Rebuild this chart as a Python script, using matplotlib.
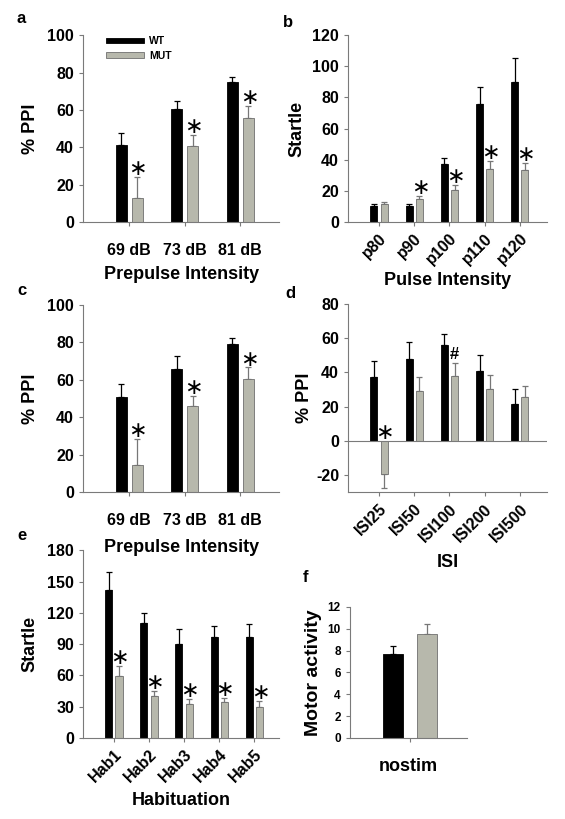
import matplotlib
matplotlib.use('Agg')
import matplotlib.pyplot as plt
from matplotlib.patches import Patch
import numpy as np

plt.rcParams['font.family'] = ['Liberation Sans', 'DejaVu Sans']
plt.rcParams['font.weight'] = 'bold'
plt.rcParams['axes.labelweight'] = 'bold'
plt.rcParams['axes.unicode_minus'] = False

GREY = '#b7b8ac'
EDGE = '#6f6f6f'
SPINE = '#7a7a7a'

# a - prepulse inhibition
prepulse = ['69 dB', '73 dB', '81 dB']
a_wt = [41, 60.5, 75]
a_wt_err = [6.5, 4.5, 2.5]
a_mut = [13, 40.5, 55.5]
a_mut_err = [11, 6, 6.5]
a_marks = ['*', '*', '*']

# b - startle vs pulse intensity
pulse = ['p80', 'p90', 'p100', 'p110', 'p120']
b_wt = [10, 10.5, 37, 76, 90]
b_wt_err = [1.5, 1, 4, 10.5, 15.5]
b_mut = [11.5, 15, 20.5, 34, 33.5]
b_mut_err = [1, 1.5, 3, 5, 4.5]
b_marks = ['', '*', '*', '*', '*']

# c - prepulse inhibition (second set)
c_wt = [51, 65.5, 79]
c_wt_err = [6.5, 7, 3]
c_mut = [14.5, 46, 60.5]
c_mut_err = [14, 5.5, 6]
c_marks = ['*', '*', '*']

# d - PPI vs interstimulus interval
isi = ['ISI25', 'ISI50', 'ISI100', 'ISI200', 'ISI500']
d_wt = [37, 48, 56, 40.5, 21.5]
d_wt_err = [9.5, 10, 6.5, 9.5, 8.5]
d_mut = [-19.5, 29, 38, 30, 25.5]
d_mut_err = [8, 8.5, 7.5, 8.5, 6.5]
d_marks = ['*', '', '#', '', '']

# e - habituation
hab = ['Hab1', 'Hab2', 'Hab3', 'Hab4', 'Hab5']
e_wt = [142, 110, 90, 97, 97]
e_wt_err = [17, 10, 15, 10, 12.5]
e_mut = [59, 40.5, 33, 34, 30]
e_mut_err = [10, 4.5, 4.5, 4.5, 5.5]
e_marks = ['*', '*', '*', '*', '*']

# f - motor activity
f_cat = ['nostim']
f_wt = [7.7]
f_wt_err = [0.7]
f_mut = [9.55]
f_mut_err = [0.9]

TICK = 11.5
LAB = 13


def style(ax):
    ax.patch.set_visible(False)
    for s in ['top', 'right']:
        ax.spines[s].set_visible(False)
    for s in ['left', 'bottom']:
        ax.spines[s].set_color(SPINE)
        ax.spines[s].set_linewidth(0.8)
    ax.tick_params(colors=SPINE, labelcolor='black', length=3, width=0.8)


def bars(ax, labels, wt, wt_err, mut, mut_err, marks, off=0.145, width=0.2):
    x = np.arange(len(labels))
    for vals, errs, dx, fc, ec, elc in [(wt, wt_err, -off, 'black', 'black', 'black'),
                                        (mut, mut_err, off, GREY, EDGE, '#777777')]:
        vals = np.array(vals)
        errs = np.array(errs)
        lo = np.where(vals < 0, errs, 0)
        hi = np.where(vals >= 0, errs, 0)
        ax.bar(x + dx, vals, width, color=fc, edgecolor=ec, linewidth=0.6, zorder=2)
        ax.errorbar(x + dx, vals, yerr=[lo, hi], fmt='none', ecolor=elc,
                    elinewidth=0.9, capsize=2.5, capthick=0.9, zorder=1)
    for i, m in enumerate(marks):
        if not m:
            continue
        top = mut[i] + mut_err[i] if mut[i] >= 0 else 0
        if m == '*':
            ax.annotate('\u2217', xy=(i + off, top), xytext=(0.5, -1.5),
                        textcoords='offset points', ha='center', va='bottom',
                        fontsize=16, fontweight='normal', family='DejaVu Sans')
        else:
            ax.annotate(m, xy=(i + off, top), xytext=(0, 1),
                        textcoords='offset points', ha='center', va='bottom',
                        fontsize=12, fontweight='bold')
    ax.set_xticks(x)
    style(ax)


fig = plt.figure(figsize=(5.65, 8.19), dpi=100)

# panel a
ax = fig.add_axes([0.147, 0.729, 0.347, 0.228])
bars(ax, prepulse, a_wt, a_wt_err, a_mut, a_mut_err, a_marks)
ax.set_xlim(-0.83, 2.70)
ax.set_ylim(0, 100)
ax.set_yticks(range(0, 101, 20))
ax.set_xticklabels(prepulse, fontsize=TICK)
ax.tick_params(axis='x', pad=12)
ax.tick_params(axis='y', labelsize=TICK)
ax.set_ylabel('% PPI', fontsize=LAB, labelpad=6)
ax.set_xlabel('Prepulse Intensity', fontsize=LAB, labelpad=6)
ax.legend(handles=[Patch(facecolor='black', edgecolor='black', lw=0.6),
                   Patch(facecolor=GREY, edgecolor=EDGE, lw=0.6)],
          labels=['WT', 'MUT'], loc='upper left', bbox_to_anchor=(0.07, 1.045),
          frameon=False, fontsize=7.5, handlelength=3.6, handleheight=0.5,
          labelspacing=0.45, handletextpad=0.5)
fig.text(0.030, 0.972, 'a', fontsize=12, fontweight='bold')

# panel b
ax = fig.add_axes([0.616, 0.729, 0.352, 0.228])
bars(ax, pulse, b_wt, b_wt_err, b_mut, b_mut_err, b_marks, off=0.145, width=0.2)
ax.set_xlim(-0.88, 4.77)
ax.set_ylim(0, 120)
ax.set_yticks(range(0, 121, 20))
ax.set_xticklabels(pulse, fontsize=TICK, rotation=45, ha='right', rotation_mode='anchor')
ax.tick_params(axis='y', labelsize=TICK)
ax.set_ylabel('Startle', fontsize=LAB, labelpad=5)
ax.set_xlabel('Pulse Intensity', fontsize=LAB, labelpad=3)
fig.text(0.501, 0.967, 'b', fontsize=12, fontweight='bold')

# panel c
ax = fig.add_axes([0.147, 0.399, 0.347, 0.229])
bars(ax, prepulse, c_wt, c_wt_err, c_mut, c_mut_err, c_marks)
ax.set_xlim(-0.83, 2.70)
ax.set_ylim(0, 100)
ax.set_yticks(range(0, 101, 20))
ax.set_xticklabels(prepulse, fontsize=TICK)
ax.tick_params(axis='x', pad=12)
ax.tick_params(axis='y', labelsize=TICK)
ax.set_ylabel('% PPI', fontsize=LAB, labelpad=6)
ax.set_xlabel('Prepulse Intensity', fontsize=LAB, labelpad=8)
fig.text(0.030, 0.640, 'c', fontsize=12, fontweight='bold')

# panel d
ax = fig.add_axes([0.616, 0.399, 0.352, 0.230])
bars(ax, isi, d_wt, d_wt_err, d_mut, d_mut_err, d_marks)
ax.axhline(0, color=SPINE, lw=0.8, zorder=3)
ax.set_xlim(-0.88, 4.77)
ax.set_ylim(-30, 80)
ax.set_yticks(range(-20, 81, 20))
ax.set_xticklabels(isi, fontsize=TICK, rotation=45, ha='right', rotation_mode='anchor')
ax.tick_params(axis='y', labelsize=TICK)
ax.set_ylabel('% PPI', fontsize=LAB, labelpad=2)
ax.set_xlabel('ISI', fontsize=LAB, labelpad=7)
fig.text(0.505, 0.636, 'd', fontsize=12, fontweight='bold')

# panel e
ax = fig.add_axes([0.147, 0.099, 0.347, 0.229])
bars(ax, hab, e_wt, e_wt_err, e_mut, e_mut_err, e_marks)
ax.set_xlim(-0.88, 4.71)
ax.set_ylim(0, 180)
ax.set_yticks(range(0, 181, 30))
ax.set_xticklabels(hab, fontsize=TICK, rotation=45, ha='right', rotation_mode='anchor')
ax.tick_params(axis='y', labelsize=TICK)
ax.set_ylabel('Startle', fontsize=LAB, labelpad=6)
ax.set_xlabel('Habituation', fontsize=LAB, labelpad=5)
fig.text(0.030, 0.341, 'e', fontsize=12, fontweight='bold')

# panel f
ax = fig.add_axes([0.619, 0.099, 0.208, 0.160])
bars(ax, f_cat, f_wt, f_wt_err, f_mut, f_mut_err, [''], off=0.29, width=0.34)
ax.set_xlim(-1.03, 0.97)
ax.set_ylim(0, 12)
ax.set_yticks(range(0, 13, 2))
ax.set_xticklabels([''])
ax.tick_params(axis='y', labelsize=8.5)
ax.set_ylabel('Motor activity', fontsize=14, labelpad=4)
ax.set_xlabel('nostim', fontsize=LAB, labelpad=8)
fig.text(0.536, 0.289, 'f', fontsize=12, fontweight='bold')

fig.savefig('out.png', dpi=100)
